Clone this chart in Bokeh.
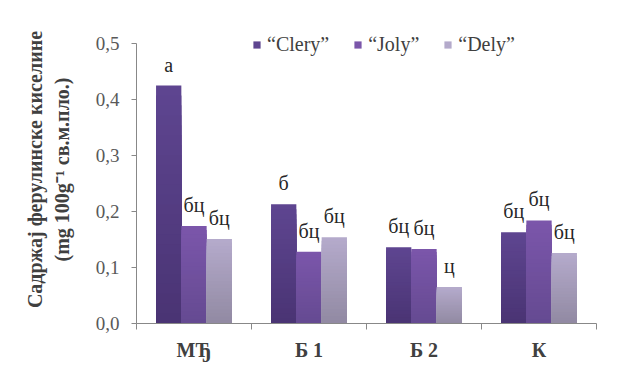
import numpy as np
from bokeh.plotting import figure
from bokeh.models import ColumnDataSource, FixedTicker, Legend, LegendItem, Range1d
from bokeh.core.properties import value
from bokeh.embed import file_html
from bokeh.resources import INLINE

categories = ["МЂ", "Б 1", "Б 2", "К"]
series = ["“Clery”", "“Joly”", "“Dely”"]
clery = [0.425, 0.213, 0.136, 0.163]
joly = [0.174, 0.128, 0.133, 0.184]
dely = [0.151, 0.154, 0.065, 0.126]
clery_lbl = ["а", "б", "бц", "бц"]
joly_lbl = ["бц", "бц", "бц", "бц"]
dely_lbl = ["бц", "бц", "ц", "бц"]
yticks = [0.0, 0.1, 0.2, 0.3, 0.4, 0.5]
y_max = 0.5

top_colors = ["#5e4590", "#7b56aa", "#b4aacb"]
bottom_colors = ["#4a3474", "#654a92", "#928aa3"]
SERIF = "Liberation Serif, serif"


def hex2rgb(h):
    h = h.lstrip("#")
    return np.array([int(h[i:i + 2], 16) for i in (0, 2, 4)], dtype=float)


def mix(c1, c2, t):
    c = hex2rgb(c1) * (1 - t) + hex2rgb(c2) * t
    return "#%02x%02x%02x" % tuple(int(round(v)) for v in c)


p = figure(width=643, height=388, output_backend="svg", toolbar_location=None,
           x_range=Range1d(0, 4), y_range=Range1d(0, 0.55),
           min_border_left=136, min_border_right=47, min_border_top=15, min_border_bottom=65)
p.outline_line_color = None
p.grid.grid_line_color = None
p.background_fill_color = "white"

bw = 0.22
offs = [-bw, 0.0, bw]
N = 24
renderers = []
for vals, lbls, off, ct, cb in zip([clery, joly, dely], [clery_lbl, joly_lbl, dely_lbl], offs,
                                    top_colors, bottom_colors):
    xs = [i + 0.5 + off for i in range(len(categories))]
    vals = np.array(vals)
    first = None
    for k in range(N):
        frac = (N - k) / N
        col = mix(ct, cb, k / (N - 1))
        r = p.vbar(x=xs, top=vals * frac, width=bw, bottom=0, fill_color=col, line_color=None)
        if first is None:
            first = r
    renderers.append(first)
    src = ColumnDataSource(dict(x=xs, top=vals, lbl=lbls))
    p.text(x="x", y="top", text="lbl", source=src, text_align="center", text_baseline="bottom",
           y_offset=-10, text_font=value(SERIF), text_font_size="20px", text_color="#262626")

# x axis
p.xaxis.ticker = FixedTicker(ticks=[i + 0.5 for i in range(len(categories))],
                             minor_ticks=list(range(len(categories) + 1)))
p.xaxis.major_label_overrides = {i + 0.5: c for i, c in enumerate(categories)}
p.xaxis.major_tick_out = 0
p.xaxis.major_tick_in = 0
p.xaxis.minor_tick_out = 6
p.xaxis.minor_tick_in = 0
p.xaxis.minor_tick_line_color = "#888888"
p.xaxis.axis_line_color = "#888888"
p.xaxis.major_label_text_font = SERIF
p.xaxis.major_label_text_font_style = "bold"
p.xaxis.major_label_text_font_size = "20px"
p.xaxis.major_label_text_color = "#404040"
p.xaxis.major_label_standoff = 9

# y axis
p.yaxis.ticker = FixedTicker(ticks=yticks, minor_ticks=[])
p.yaxis.bounds = (0, y_max)
p.yaxis.major_label_overrides = {t: ("%.1f" % t).replace(".", ",") for t in yticks}
p.yaxis.major_tick_out = 5
p.yaxis.major_tick_in = 0
p.yaxis.major_tick_line_color = "#888888"
p.yaxis.axis_line_color = "#888888"
p.yaxis.major_label_text_font = SERIF
p.yaxis.major_label_text_font_size = "19px"
p.yaxis.major_label_text_color = "#595959"
p.yaxis.major_label_standoff = 12
p.yaxis.axis_label = "Садржај ферулинске киселине\n(mg 100g⁻¹ св.м.пло.)"
p.yaxis.axis_label_text_font = SERIF
p.yaxis.axis_label_text_font_style = "bold"
p.yaxis.axis_label_text_font_size = "20px"
p.yaxis.axis_label_text_color = "#404040"
p.yaxis.axis_label_standoff = 20

legend = Legend(items=[LegendItem(label=s, renderers=[r]) for s, r in zip(series, renderers)],
                orientation="horizontal", location=(116, 267), padding=0, margin=0,
                spacing=24, glyph_width=9, glyph_height=9, label_standoff=6,
                label_text_font=SERIF, label_text_font_size="20px", label_text_color="#404040",
                border_line_color=None, background_fill_alpha=0)
p.add_layout(legend)

open("out.html", "w").write(file_html(p, INLINE))
